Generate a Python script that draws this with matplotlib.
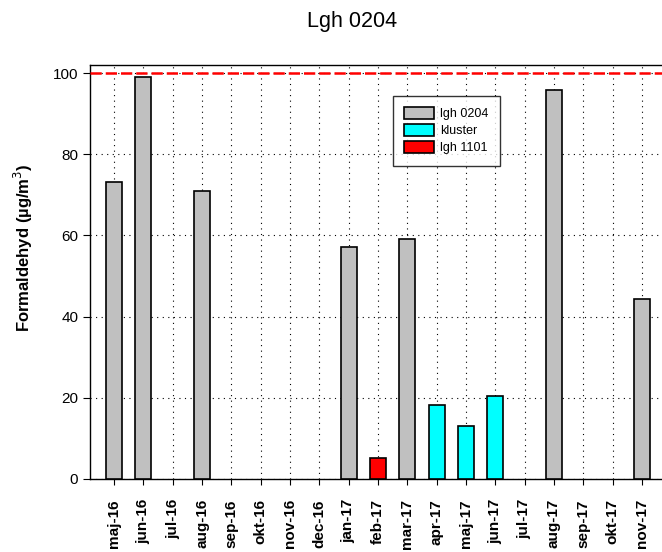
import matplotlib
matplotlib.use("Agg")
import matplotlib.pyplot as plt
from matplotlib.patches import Patch

plt.rcParams['font.family'] = ['Liberation Sans', 'DejaVu Sans']

categories = ["maj-16", "jun-16", "jul-16", "aug-16", "sep-16", "okt-16", "nov-16", "dec-16",
              "jan-17", "feb-17", "mar-17", "apr-17", "maj-17", "jun-17", "jul-17", "aug-17",
              "sep-17", "okt-17", "nov-17"]
values = [73.2, 99.0, None, 70.9, None, None, None, None,
          57.1, 5.2, 59.1, 18.2, 13.0, 20.4, None, 95.8,
          None, None, 44.3]
groups = ["lgh 0204", "lgh 0204", None, "lgh 0204", None, None, None, None,
          "lgh 0204", "lgh 1101", "lgh 0204", "kluster", "kluster", "kluster", None, "lgh 0204",
          None, None, "lgh 0204"]
group_colors = {"lgh 0204": "#c0c0c0", "kluster": "#00ffff", "lgh 1101": "#ff0000"}
limit_value = 100
y_ticks = [0, 20, 40, 60, 80, 100]

fig = plt.figure(figsize=(6.62, 5.52), dpi=100)
ax = fig.add_axes([90/662, 73/552, 576/662, 414/552])

xs = list(range(len(categories)))
for x, v, g in zip(xs, values, groups):
    if v is None:
        continue
    ax.bar(x, v, width=0.55, color=group_colors[g], edgecolor='black', linewidth=1.2, zorder=3)

ax.axhline(limit_value, color='red', linestyle=(0, (4.5, 1.6)), linewidth=1.8, zorder=4)

ax.set_xlim(-0.82, 18.82)
ax.set_ylim(0, 102)
ax.set_xticks(xs)
ax.set_xticklabels(categories, rotation=90, fontweight='bold', fontsize=11)
ax.set_yticks(y_ticks)
ax.tick_params(axis='y', labelsize=11, direction='out', length=5)
ax.tick_params(axis='x', direction='out', length=4, pad=10.5)
ax.grid(True, linestyle=(0, (1, 4)), color='black', linewidth=0.8, zorder=0)
ax.set_axisbelow(True)
for s in ax.spines.values():
    s.set_linewidth(1.0)

fig.text(23/662, 1 - 248/552, "Formaldehyd (µg/m$^3$)", rotation=90, ha='center', va='center',
         fontweight='bold', fontsize=12)
fig.text(352/662, 1 - 22/552, "Lgh 0204", ha='center', va='center', fontsize=15.5)

handles = [Patch(facecolor=group_colors[k], edgecolor='black', linewidth=1.2, label=k)
           for k in ["lgh 0204", "kluster", "lgh 1101"]]
leg = ax.legend(handles=handles, loc='upper left', bbox_to_anchor=(393/662, 1 - 96/552),
                bbox_transform=fig.transFigure, fontsize=9, frameon=True, fancybox=False,
                edgecolor='black', handlelength=2.4, handleheight=1.1, labelspacing=0.3,
                borderpad=0.9, borderaxespad=0, handletextpad=0.5)
leg.get_frame().set_linewidth(1.0)

fig.savefig("out.png", dpi=100)
